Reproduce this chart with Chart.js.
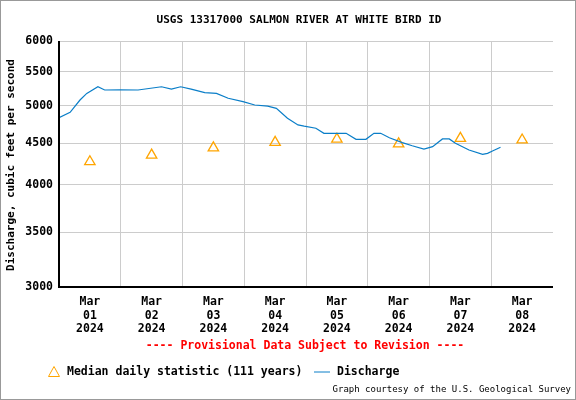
<!DOCTYPE html>
<html><head><meta charset="utf-8">
<script src="https://cdn.jsdelivr.net/npm/chart.js@4/dist/chart.umd.min.js"></script>
<style>html,body{margin:0;padding:0;background:#fff}#w{width:576px;height:400px}</style>
</head><body><div id="w"><canvas id="c"></canvas></div>
<script>
const dayLabels = [["Mar","01","2024"],["Mar","02","2024"],["Mar","03","2024"],["Mar","04","2024"],["Mar","05","2024"],["Mar","06","2024"],["Mar","07","2024"],["Mar","08","2024"]];
const medianDays = [0.5,1.5,2.5,3.5,4.5,5.5,6.5,7.5];
const medianValues = [4270,4350,4440,4510,4550,4490,4560,4540];
const dischargeDays = [0,0.18,0.34,0.45,0.63,0.74,0.99,1.28,1.66,1.82,1.97,2.14,2.36,2.55,2.74,2.98,3.17,3.38,3.52,3.70,3.87,3.97,4.16,4.29,4.65,4.81,4.97,5.10,5.21,5.35,5.56,5.72,5.91,6.05,6.21,6.32,6.42,6.64,6.86,6.94,7.02,7.15];
const dischargeValues = [4834,4908,5081,5177,5274,5226,5230,5226,5274,5240,5274,5240,5187,5177,5106,5057,5010,4995,4963,4827,4737,4720,4692,4626,4626,4548,4548,4626,4626,4569,4506,4467,4425,4455,4553,4553,4497,4413,4359,4372,4401,4447];
const yTicks = [3000,3500,4000,4500,5000,5500,6000];
const F = "'DejaVu Sans Mono', monospace";

const textPlugin = {
  id:'texts',
  afterDraw(ch){
    const c = ch.ctx, a = ch.chartArea;
    c.save();
    c.fillStyle='#000'; c.textAlign='center'; c.textBaseline='middle';
    c.font = "bold 11px "+F;
    c.fillText("USGS 13317000 SALMON RIVER AT WHITE BIRD ID", 299, 20);
    c.font = "bold 11.5px "+F;
    c.fillStyle='#f00';
    c.fillText("---- Provisional Data Subject to Revision ----", 305, 346);
    c.save(); c.translate(11,165); c.rotate(-Math.PI/2); c.fillStyle='#000';
    c.font = "bold 11px "+F;
    c.fillText("Discharge, cubic feet per second",0,0); c.restore();
    c.strokeStyle='#FFA500'; c.lineWidth=1;
    c.beginPath(); c.moveTo(54,366.5); c.lineTo(48.5,376.5); c.lineTo(59.5,376.5); c.closePath(); c.stroke();
    c.fillStyle='#000'; c.textAlign='left';
    c.fillText("Median daily statistic (111 years)", 67, 372);
    c.strokeStyle='#0a7ec8'; c.beginPath(); c.moveTo(314,372); c.lineTo(330,372); c.stroke();
    c.fillText("Discharge", 337, 372);
    c.font = "9px "+F; c.textAlign='right';
    c.fillText("Graph courtesy of the U.S. Geological Survey", 571, 390);
    c.strokeStyle='#000'; c.lineWidth=2;
    c.beginPath(); c.moveTo(a.left,a.top); c.lineTo(a.left,a.bottom); c.lineTo(a.right,a.bottom); c.stroke();
    c.strokeStyle='#999'; c.lineWidth=1;
    c.strokeRect(0.5,0.5,575,399);
    c.restore();
  }
};

new Chart(document.getElementById('c'), {
  data:{datasets:[
    {type:'line', data:dischargeDays.map((d,i)=>({x:d,y:dischargeValues[i]})), borderColor:'#0a7ec8', borderWidth:1.2, pointRadius:0, tension:0, xAxisID:'x', yAxisID:'y'},
    {type:'scatter', data:medianDays.map((d,i)=>({x:d,y:medianValues[i]})), pointStyle:'triangle', pointRadius:6, borderColor:'#FFA500', backgroundColor:'rgba(0,0,0,0)', borderWidth:1.3, xAxisID:'x', yAxisID:'y'}
  ]},
  options:{
    responsive:true, maintainAspectRatio:false, animation:false,
    layout:{padding:{top:41,right:23,left:0,bottom:0}},
    plugins:{legend:{display:false},tooltip:{enabled:false}},
    scales:{
      x:{type:'linear', min:0, max:8, position:'bottom',
        afterBuildTicks(s){s.ticks=[1,2,3,4,5,6,7].map(v=>({value:v}));},
        ticks:{display:false}, border:{display:false},
        grid:{color:'#ccc', drawTicks:false},
        afterFit(s){s.height=0;}},
      x2:{type:'linear', min:0, max:8, position:'bottom',
        afterBuildTicks(s){s.ticks=medianDays.map(v=>({value:v}));},
        ticks:{color:'#000', font:{family:F,weight:'bold',size:11.5}, padding:8, maxRotation:0, autoSkip:false,
          callback:(v)=>dayLabels[Math.round(v-0.5)]},
        grid:{display:false, drawTicks:false}, border:{display:false},
        afterFit(s){s.height=113;}},
      y:{type:'logarithmic', min:3000, max:6000,
        afterBuildTicks(s){s.ticks=yTicks.map(v=>({value:v}));},
        ticks:{color:'#000', font:{family:F,weight:'bold',size:11.5}, padding:6, callback:v=>String(v)},
        grid:{color:'#ccc', drawTicks:false, drawOnChartArea:true}, border:{display:false},
        afterFit(s){s.width=59;}}
    }
  },
  plugins:[textPlugin]
});
</script></body></html>
